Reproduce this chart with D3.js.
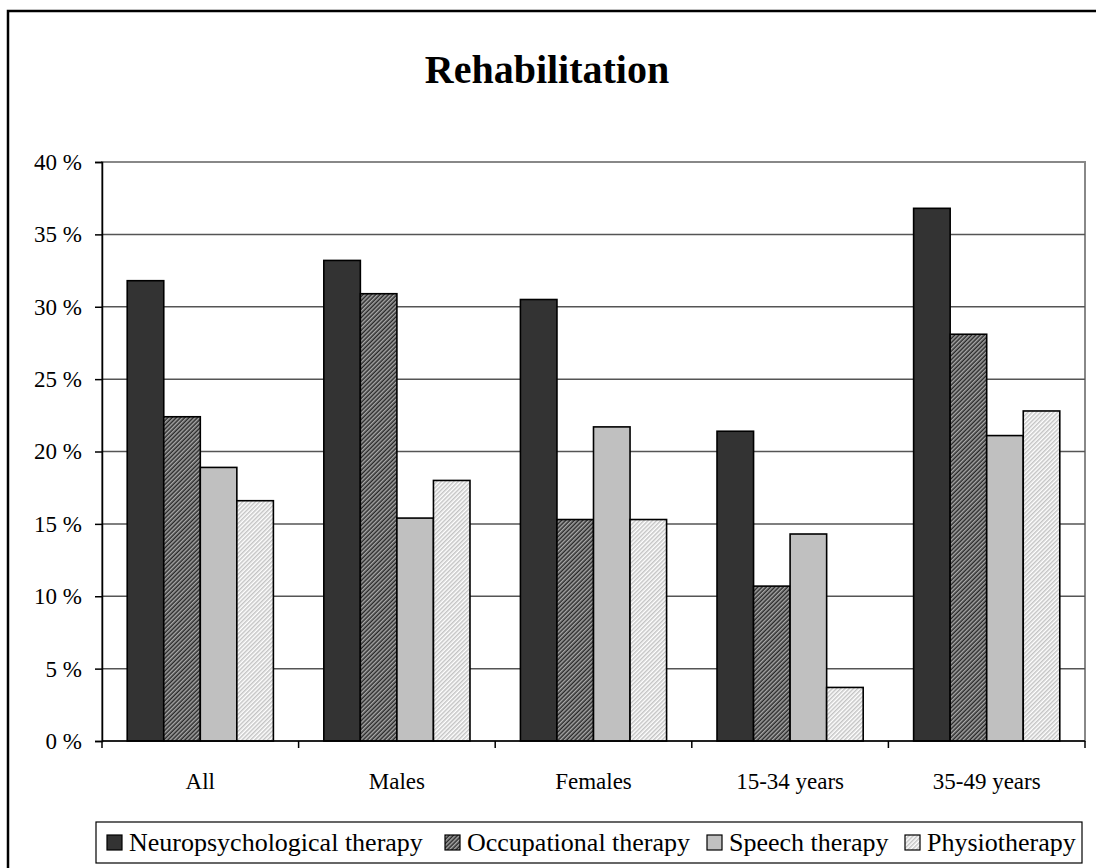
<!DOCTYPE html>
<html>
<head>
<meta charset="utf-8">
<script src="https://cdn.jsdelivr.net/npm/d3@7"></script>
<style>
  body { margin: 0; background: #fff; }
  svg { display: block; font-family: "Liberation Serif", "Times New Roman", serif; }
</style>
</head>
<body>
<svg id="chart" width="1096" height="868"></svg>
<script>
// values (percent)
const categories = ["All", "Males", "Females", "15-34 years", "35-49 years"];
const seriesNames = ["Neuropsychological therapy", "Occupational therapy", "Speech therapy", "Physiotherapy"];
const neuro = [31.8, 33.2, 30.5, 21.4, 36.8];
const occupational = [22.4, 30.9, 15.3, 10.7, 28.1];
const speech = [18.9, 15.4, 21.7, 14.3, 21.1];
const physio = [16.6, 18.0, 15.3, 3.7, 22.8];
const yTicks = [0, 5, 10, 15, 20, 25, 30, 35, 40];

const series = [neuro, occupational, speech, physio];

const svg = d3.select("#chart"),
    margin = { top: 162, right: 11, bottom: 127, left: 102 },
    width = 1096 - margin.left - margin.right,
    height = 868 - margin.top - margin.bottom;

// fills, two of them striped
const defs = svg.append("defs");
function stripes(id, bg, fg) {
    const p = defs.append("pattern")
        .attr("id", id)
        .attr("patternUnits", "userSpaceOnUse")
        .attr("width", 3)
        .attr("height", 3)
        .attr("patternTransform", "rotate(45)");
    p.append("rect").attr("width", 3).attr("height", 3).attr("fill", bg);
    p.append("rect").attr("width", 1.5).attr("height", 3).attr("fill", fg);
}
stripes("occ", "#2a2a2a", "#a8a8a8");
stripes("phy", "#ffffff", "#c4c4c4");
const fills = ["#333333", "url(#occ)", "#c0c0c0", "url(#phy)"];

// outer frame
svg.append("rect")
    .attr("x", 8).attr("y", 11)
    .attr("width", 1100).attr("height", 880)
    .attr("fill", "none")
    .attr("stroke", "#000")
    .attr("stroke-width", 2.5);

svg.append("text")
    .attr("x", 547)
    .attr("y", 83)
    .attr("text-anchor", "middle")
    .style("font-size", "40px")
    .style("font-weight", "bold")
    .text("Rehabilitation");

const x0 = d3.scaleBand()
    .domain(categories)
    .range([0, width])
    .paddingInner(0)
    .paddingOuter(0);

const x1 = d3.scaleBand()
    .domain(d3.range(series.length))
    .range([0, x0.bandwidth()])
    .paddingOuter(0.69)
    .paddingInner(0);

const y = d3.scaleLinear()
    .domain([0, 40])
    .range([height, 0]);

const g = svg.append("g")
    .attr("transform", "translate(" + margin.left + "," + margin.top + ")");

// plot area border (top + right are grey)
g.append("rect")
    .attr("width", width)
    .attr("height", height)
    .attr("fill", "none")
    .attr("stroke", "#888")
    .attr("stroke-width", 2);

// grid lines
g.selectAll("line.grid")
    .data(yTicks.filter(d => d > 0 && d < 40))
    .enter().append("line")
    .attr("class", "grid")
    .attr("x1", 0)
    .attr("x2", width)
    .attr("y1", d => y(d))
    .attr("y2", d => y(d))
    .attr("stroke", "#555")
    .attr("stroke-width", 1.5);

// bars
categories.forEach(function (c, i) {
    g.selectAll("rect.bar-" + i)
        .data(series.map((s, k) => ({ k: k, v: s[i] })))
        .enter().append("rect")
        .attr("x", d => x0(c) + x1(d.k))
        .attr("y", d => y(d.v))
        .attr("width", x1.bandwidth())
        .attr("height", d => height - y(d.v))
        .attr("fill", d => fills[d.k])
        .attr("stroke", "#000")
        .attr("stroke-width", 1.6);
});

// y axis
const yAxis = g.append("g")
    .call(d3.axisLeft(y).tickValues(yTicks).tickSize(7).tickPadding(13).tickFormat(d => d + " %"));
yAxis.select(".domain").attr("stroke", "#000").attr("stroke-width", 1.5);
yAxis.selectAll(".tick line").attr("stroke", "#000").attr("stroke-width", 1.5);
yAxis.selectAll("text")
    .style("font-size", "23px")
    .style("font-family", "Liberation Serif, serif")
    .attr("fill", "#000");

// x axis: ticks at category boundaries, labels centred
const xAxis = g.append("g")
    .attr("transform", "translate(0," + height + ")");
xAxis.append("line")
    .attr("x1", 0).attr("x2", width)
    .attr("stroke", "#000").attr("stroke-width", 1.5);
xAxis.selectAll("line.tick")
    .data(categories.map(c => x0(c)).concat([width]))
    .enter().append("line")
    .attr("class", "tick")
    .attr("x1", d => d).attr("x2", d => d)
    .attr("y1", 0).attr("y2", 7)
    .attr("stroke", "#000").attr("stroke-width", 1.5);
xAxis.selectAll("text")
    .data(categories)
    .enter().append("text")
    .attr("x", d => x0(d) + x0.bandwidth() / 2)
    .attr("y", 48)
    .attr("text-anchor", "middle")
    .style("font-size", "23px")
    .text(d => d);

// legend
const legend = svg.append("g");
legend.append("rect")
    .attr("x", 96).attr("y", 822)
    .attr("width", 986).attr("height", 41)
    .attr("fill", "#fff")
    .attr("stroke", "#000")
    .attr("stroke-width", 1.2);
const legendX = [107, 445, 707, 905];
seriesNames.forEach(function (name, k) {
    legend.append("rect")
        .attr("x", legendX[k]).attr("y", 835)
        .attr("width", 15).attr("height", 15)
        .attr("fill", fills[k])
        .attr("stroke", "#000")
        .attr("stroke-width", 1.2);
    legend.append("text")
        .attr("x", legendX[k] + 22)
        .attr("y", 851)
        .style("font-size", "26px")
        .text(name);
});
</script>
</body>
</html>
